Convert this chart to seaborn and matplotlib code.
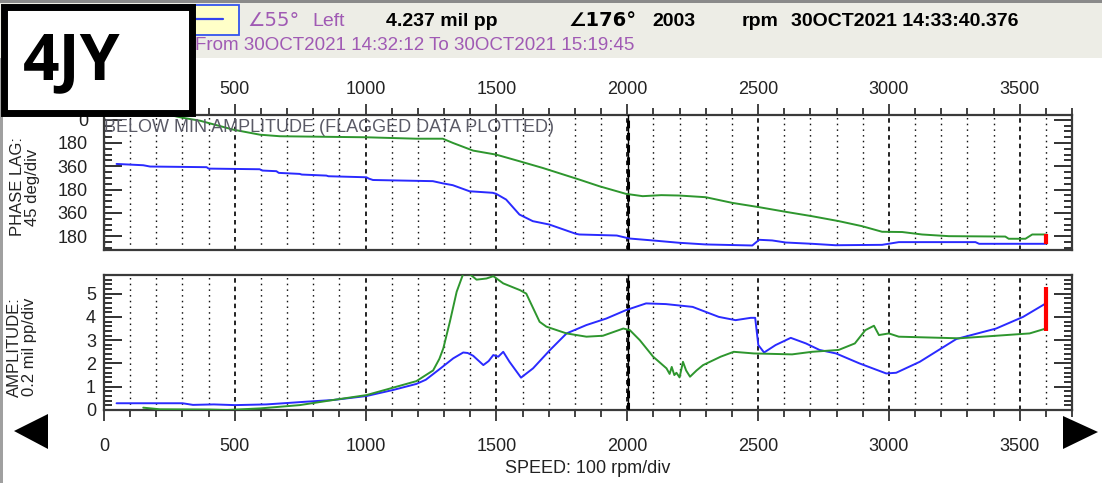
import numpy as np
import pandas as pd
import matplotlib
matplotlib.use("Agg")
import matplotlib.pyplot as plt
import seaborn as sns
from matplotlib.patches import Rectangle, Polygon
from matplotlib.lines import Line2D
from matplotlib.ticker import FixedLocator, MultipleLocator

# ---------------- data ----------------
blue_phase_rpm = [48, 150, 176, 392, 400, 595, 605, 659, 668, 748, 756, 850, 858, 1003, 1012, 1028, 1257, 1295,
                  1333, 1397, 1486, 1499, 1537, 1588, 1639, 1702, 1804, 1817, 1960, 2008, 2097, 2198, 2300, 2478,
                  2504, 2554, 2606, 2707, 2796, 2974, 3038, 3331, 3345, 3598]
blue_phase_deg = [342, 352, 362, 367, 378, 383, 393, 398, 411, 419, 424, 432, 437, 445, 455, 466, 475, 492,
                  506, 553, 565, 573, 617, 733, 784, 810, 882, 887, 895, 918, 933, 951, 964, 972,
                  928, 933, 949, 959, 970, 967, 946, 946, 959, 959]

green_phase_rpm = [195, 300, 367, 494, 596, 672, 1003, 1193, 1295, 1334, 1411, 1499, 1588, 1677, 1817, 1893,
                   1995, 2059, 2130, 2198, 2300, 2402, 2504, 2606, 2707, 2809, 2898, 2974, 3051, 3127, 3229,
                   3445, 3458, 3522, 3548, 3598]
green_phase_deg = [-60, -15, 8, 77, 116, 128, 136, 147, 147, 180, 239, 270, 321, 373, 463, 514,
                   573, 591, 583, 586, 599, 643, 676, 712, 746, 784, 823, 866, 868, 887, 900,
                   903, 920, 920, 887, 887]

blue_amp_rpm = [48, 300, 340, 420, 500, 620, 700, 777, 876, 1003, 1105, 1194, 1230, 1282, 1335, 1373, 1390,
                1411, 1450, 1470, 1488, 1507, 1526, 1550, 1594, 1640, 1705, 1768, 1844, 1920, 1995, 2072,
                2148, 2250, 2350, 2414, 2472, 2489, 2501, 2523, 2567, 2625, 2683, 2735, 2798, 2888, 2990,
                3028, 3118, 3258, 3410, 3513, 3600]
blue_amp = [0.29, 0.29, 0.22, 0.24, 0.21, 0.24, 0.30, 0.36, 0.43, 0.60, 0.86, 1.12, 1.30, 1.75, 2.22, 2.47, 2.45,
            2.33, 1.93, 2.10, 2.36, 2.29, 2.50, 2.07, 1.39, 1.79, 2.58, 3.29, 3.65, 3.93, 4.29, 4.58,
            4.55, 4.43, 4.00, 3.86, 3.96, 3.96, 2.79, 2.47, 2.79, 3.10, 2.86, 2.58, 2.43, 2.00, 1.57,
            1.60, 2.07, 3.05, 3.50, 4.00, 4.58]

green_amp_rpm = [150, 214, 400, 470, 598, 748, 876, 1003, 1105, 1194, 1258, 1282, 1297, 1322, 1348, 1373,
                 1400, 1424, 1462, 1488, 1526, 1590, 1614, 1665, 1691, 1768, 1844, 1907, 1985, 2010, 2048,
                 2099, 2150, 2162, 2170, 2180, 2188, 2200, 2213, 2225, 2240, 2265, 2290, 2357, 2407, 2484,
                 2630, 2706, 2808, 2870, 2910, 2943, 2962, 3000, 3038, 3268, 3410, 3538, 3600]
green_amp = [0.10, 0.03, 0.02, 0.00, 0.07, 0.21, 0.43, 0.64, 0.96, 1.24, 1.70, 2.20, 2.65, 3.79, 5.08, 5.85,
             5.82, 5.60, 5.65, 5.75, 5.44, 5.15, 5.00, 3.79, 3.58, 3.29, 3.15, 3.19, 3.50, 3.43, 3.00,
             2.29, 1.79, 1.55, 1.85, 1.50, 1.60, 1.40, 2.07, 1.70, 1.43, 1.70, 1.93, 2.29, 2.50, 2.43,
             2.39, 2.50, 2.58, 2.86, 3.43, 3.62, 3.22, 3.29, 3.15, 3.08, 3.19, 3.29, 3.50]

cursor_rpm = 2003
flag_rpm = 3600
flag_phase = (887, 964)
flag_amp = (3.4, 5.3)

x_top_ticks = [500, 1000, 1500, 2000, 2500, 3000, 3500]
x_bot_ticks = [0, 500, 1000, 1500, 2000, 2500, 3000, 3500]
phase_ticks = [0, 180, 360, 540, 720, 900]
phase_labels = ["0", "180", "360", "180", "360", "180"]
amp_ticks = [0, 1, 2, 3, 4, 5]

# ---------------- style ----------------
W, H = 1102, 483
sns.set_theme(style="white")
plt.rcParams["font.family"] = ["Liberation Sans", "DejaVu Sans"]
NARROW = ["Liberation Sans Narrow", "Liberation Sans", "DejaVu Sans"]
BLUE = "#2a2aff"
GREEN = "#2e962e"
PURPLE = "#a05ab4"
TXT = "#222222"

fig = plt.figure(figsize=(W / 100, H / 100), dpi=100)
fig.patch.set_facecolor("white")


def fx(x):
    return x / W


def fy(y):
    return 1 - y / H


L, R = 104, 1072
ax_p = fig.add_axes([fx(L), fy(249.5), (R - L) / W, 135 / H])
ax_a = fig.add_axes([fx(L), fy(410), (R - L) / W, 135 / H])

df_phase = pd.concat([
    pd.DataFrame({"rpm": blue_phase_rpm, "deg": blue_phase_deg, "probe": "Left"}),
    pd.DataFrame({"rpm": green_phase_rpm, "deg": green_phase_deg, "probe": "Right"}),
])
df_amp = pd.concat([
    pd.DataFrame({"rpm": blue_amp_rpm, "amp": blue_amp, "probe": "Left"}),
    pd.DataFrame({"rpm": green_amp_rpm, "amp": green_amp, "probe": "Right"}),
])
pal = {"Left": BLUE, "Right": GREEN}
sns.lineplot(data=df_phase, x="rpm", y="deg", hue="probe", palette=pal, estimator=None,
             sort=False, legend=False, ax=ax_p, lw=1.4, zorder=4)
sns.lineplot(data=df_amp, x="rpm", y="amp", hue="probe", palette=pal, estimator=None,
             sort=False, legend=False, ax=ax_a, lw=1.4, zorder=4)

ax_p.set_xlim(0, 3700)
ax_a.set_xlim(0, 3700)
ax_p.set_ylim(1003, -40)
ax_a.set_ylim(0, 5.8)

for ax in (ax_p, ax_a):
    ax.set_xlabel("")
    ax.set_ylabel("")
    for s in ax.spines.values():
        s.set_color("#3a3a3a")
        s.set_linewidth(1.6)
        s.set_visible(True)
    ax.xaxis.set_minor_locator(MultipleLocator(100))
    ax.grid(False)
    ax.grid(which="minor", axis="x", color="#111111", ls=(0, (1.1, 3.0)), lw=1.0)
    ax.grid(which="major", axis="x", color="#111111", ls=(0, (2.5, 2.2)), lw=1.3)
    ax.axvline(cursor_rpm, color="black", lw=1.0, zorder=3)
    ax.axvline(cursor_rpm, color="black", lw=2.2, ls=(0, (2.5, 1.5)), zorder=3)
    ax.tick_params(axis="y", which="both", direction="in", left=True, right=True,
                   color="#222222", width=1.3)
    ax.tick_params(axis="y", which="major", length=13)
    ax.tick_params(axis="y", which="minor", length=5.8)
    ax.tick_params(axis="x", which="both", color="#222222", width=1.2, direction="out")
    ax.tick_params(axis="x", which="major", length=8)
    ax.tick_params(axis="x", which="minor", length=5)

# phase axis ticks
ax_p.xaxis.set_major_locator(FixedLocator(x_top_ticks))
ax_p.tick_params(axis="x", which="both", top=True, bottom=False, labeltop=True, labelbottom=False,
                 labelsize=13, labelcolor=TXT, pad=4)
ax_p.yaxis.set_major_locator(FixedLocator(phase_ticks))
ax_p.set_yticklabels(phase_labels)
ax_p.yaxis.set_minor_locator(MultipleLocator(45))
ax_p.tick_params(axis="y", which="major", labelsize=13, labelcolor=TXT, pad=11.5)
for t in ax_p.get_yticklabels():
    t.set_family(NARROW)
ax_p.vlines(flag_rpm, flag_phase[0], flag_phase[1], color="red", lw=3, zorder=5)
ax_p.text(0.0, 1.0 - (128 - 114.5) / 135, "BELOW MIN AMPLITUDE (FLAGGED DATA PLOTTED)",
          transform=ax_p.transAxes, ha="left", va="center", fontsize=13, color="#5a5a66", zorder=6)

# amplitude axis ticks
ax_a.xaxis.set_major_locator(FixedLocator(x_bot_ticks))
ax_a.tick_params(axis="x", which="both", top=False, bottom=True, labelsize=13, labelcolor=TXT, pad=12)
ax_a.yaxis.set_major_locator(FixedLocator(amp_ticks))
ax_a.yaxis.set_minor_locator(MultipleLocator(0.2))
ax_a.tick_params(axis="y", which="major", labelsize=13, labelcolor=TXT, pad=5.8)
for t in ax_a.get_yticklabels():
    t.set_family(NARROW)
ax_a.vlines(flag_rpm, flag_amp[0], flag_amp[1], color="red", lw=3, zorder=5)
ax_a.set_xlabel("SPEED: 100 rpm/div", fontsize=13, color=TXT, labelpad=4)

# y labels (figure text)
fig.text(fx(25), fy(187), "PHASE LAG:\n45 deg/div", rotation=90, ha="center", va="center",
         fontsize=12, color=TXT, linespacing=1.0, multialignment="center")
fig.text(fx(22), fy(347), "AMPLITUDE:\n0.2 mil pp/div", rotation=90, ha="center", va="center",
         fontsize=12, color=TXT, linespacing=1.0, multialignment="center")

# header band
fig.add_artist(Rectangle((0, fy(58)), 1, 58 / H, transform=fig.transFigure,
                         facecolor="#ededE6", edgecolor="none", zorder=0))
fig.add_artist(Rectangle((0, fy(3)), 1, 3 / H, transform=fig.transFigure,
                         facecolor="#8a8a8a", edgecolor="none", zorder=1))
fig.add_artist(Rectangle((0, 0), 3 / W, fy(58), transform=fig.transFigure,
                         facecolor="#a0a0a0", edgecolor="none", zorder=1))

# little legend box in header
fig.add_artist(Rectangle((fx(180), fy(35)), 59 / W, 30 / H, transform=fig.transFigure,
                         facecolor="#ffffc8", edgecolor="#3355ee", lw=1.3, zorder=2))
fig.add_artist(Line2D([fx(182), fx(223)], [fy(19), fy(19)], transform=fig.transFigure,
                      color="#3344ee", lw=1.6, zorder=3))

y1, y2 = fy(21), fy(46)
fig.text(fx(247), y1, "∠55°", fontsize=14, color=PURPLE, va="center", ha="left", zorder=3,
         family=["DejaVu Sans"])
fig.text(fx(312), y1, "Left", fontsize=14, color=PURPLE, va="center", ha="left", zorder=3)
fig.text(fx(386), y1, "4.237 mil pp", fontsize=14, color="black", weight="bold", va="center", ha="left", zorder=3)
fig.text(fx(568), y1, "∠176°", fontsize=14, color="black", weight="bold", va="center", ha="left", zorder=3,
         family=["DejaVu Sans"])
fig.text(fx(652), y1, "2003", fontsize=14, color="black", weight="bold", va="center", ha="left", zorder=3)
fig.text(fx(742), y1, "rpm", fontsize=14, color="black", weight="bold", va="center", ha="left", zorder=3)
fig.text(fx(791), y1, "30OCT2021 14:33:40.376", fontsize=14, color="black", weight="bold",
         va="center", ha="left", zorder=3)
fig.text(fx(195), y2, "From 30OCT2021 14:32:12 To 30OCT2021 15:19:45", fontsize=13.5, color=PURPLE,
         va="center", ha="left", zorder=3)

# 4JY box
fig.add_artist(Rectangle((fx(3.5), fy(112.5)), 188 / W, 105.5 / H, transform=fig.transFigure,
                         facecolor="white", edgecolor="black", lw=5.0, zorder=20))
fig.text(fx(72), fy(63), "4JY", fontsize=46, weight="bold", color="black", ha="center", va="center",
         zorder=21, family=["Open Sans", "DejaVu Sans"])

# navigation triangles
fig.add_artist(Polygon([(fx(14), fy(431)), (fx(48), fy(414)), (fx(48), fy(449))], closed=True,
                       transform=fig.transFigure, facecolor="black", edgecolor="none", zorder=5))
fig.add_artist(Polygon([(fx(1098), fy(432)), (fx(1063), fy(416)), (fx(1063), fy(449))], closed=True,
                       transform=fig.transFigure, facecolor="black", edgecolor="none", zorder=5))

fig.savefig("out.png", dpi=100)
